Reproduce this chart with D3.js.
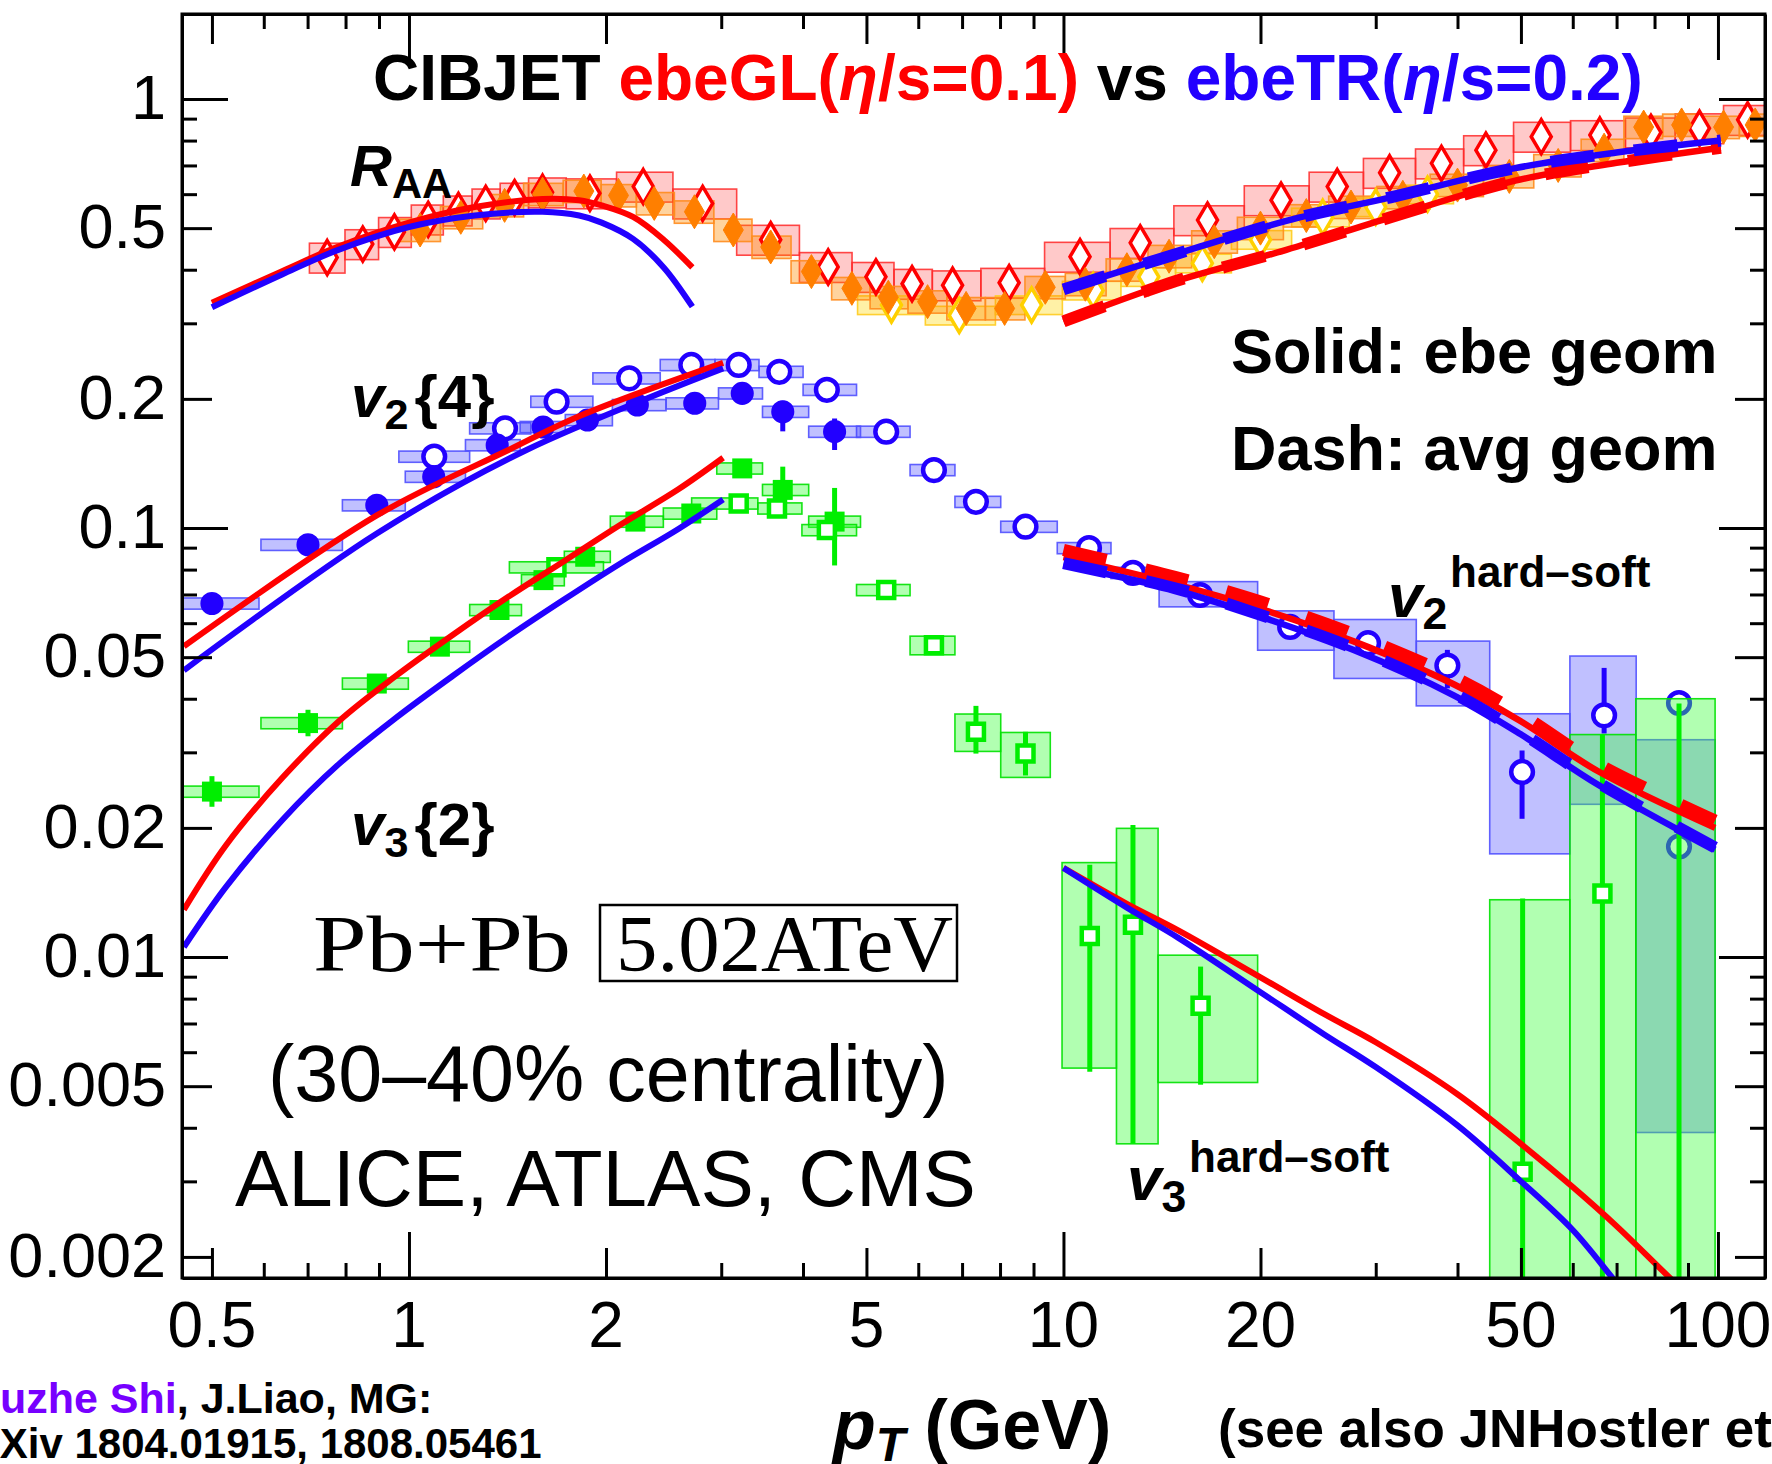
<!DOCTYPE html>
<html>
<head>
<meta charset="utf-8">
<script src="https://cdnjs.cloudflare.com/ajax/libs/d3/7.8.5/d3.min.js"></script>
<style>
  html, body { margin: 0; padding: 0; background: #fff; }
  svg { display: block; }
  text { font-family: "Liberation Sans", Arial, sans-serif; }
</style>
</head>
<body>
<svg id="chart" width="1772" height="1464"></svg>
<script>
// ---------------- data ----------------
// axis ticks
const xTickVals = [0.5, 1, 2, 5, 10, 20, 50, 100];
const xTickLabels = ["0.5", "1", "2", "5", "10", "20", "50", "100"];
const yTickVals = [0.002, 0.005, 0.01, 0.02, 0.05, 0.1, 0.2, 0.5, 1];
const yTickLabels = ["0.002", "0.005", "0.01", "0.02", "0.05", "0.1", "0.2", "0.5", "1"];

// R_AA data: red open diamonds, orange filled diamonds, yellow open diamonds
const raaAlicePt  = [0.75, 0.85, 0.95, 1.07, 1.19, 1.31, 1.45, 1.6, 1.89, 2.28, 2.81, 3.57, 4.37, 5.17, 5.87, 6.77, 8.26, 10.6, 13.1, 16.6, 21.5, 26.2, 31.5, 37.8, 44.2, 53.7, 66, 79, 93.7, 111];
const raaAliceVal = [0.427, 0.459, 0.49, 0.524, 0.55, 0.571, 0.589, 0.606, 0.603, 0.625, 0.571, 0.47, 0.406, 0.385, 0.371, 0.368, 0.373, 0.429, 0.462, 0.522, 0.581, 0.625, 0.673, 0.708, 0.76, 0.817, 0.824, 0.836, 0.855, 0.894];
const raaAliceSys = 0.08;

const raaCmsPt  = [1.04, 1.2, 1.4, 1.6, 1.85, 2.09, 2.37, 2.73, 3.13, 3.57, 4.12, 4.75, 5.4, 6.2, 7.1, 8.13, 9.38, 10.8, 12.5, 14.5, 17, 20, 23.5, 27.5, 33, 40, 48, 57, 67, 77, 88, 102, 114];
const raaCmsVal = [0.495, 0.53, 0.565, 0.6, 0.61, 0.596, 0.571, 0.546, 0.495, 0.452, 0.396, 0.362, 0.345, 0.337, 0.325, 0.325, 0.364, 0.37, 0.4, 0.43, 0.465, 0.5, 0.535, 0.56, 0.59, 0.63, 0.66, 0.7, 0.76, 0.86, 0.87, 0.86, 0.87];
const raaCmsSys = 0.06;

const raaAtlasPt  = [5.46, 6.93, 8.94, 11.1, 13.5, 16.3, 20, 24.9, 30, 36];
const raaAtlasVal = [0.331, 0.313, 0.331, 0.358, 0.385, 0.414, 0.47, 0.53, 0.56, 0.6];
const raaAtlasSys = 0.05;

// v2 data, blue
const v2OpenPt  = [1.093, 1.402, 1.681, 2.17, 2.70, 3.19, 3.68, 4.35, 5.36, 6.34, 7.35, 8.75, 10.94, 12.77];
const v2OpenVal = [0.1467, 0.1708, 0.197, 0.2233, 0.2399, 0.2399, 0.2313, 0.21, 0.1677, 0.1365, 0.1151, 0.1007, 0.0898, 0.0786];
const v2OpenSys = 0.03;

const v2FillPt  = [0.5, 0.701, 0.893, 1.091, 1.364, 1.603, 1.874, 2.233, 2.733, 3.23, 3.725, 4.47];
const v2FillVal = [0.0667, 0.0914, 0.113, 0.1317, 0.156, 0.172, 0.1785, 0.1935, 0.1953, 0.206, 0.1866, 0.1677];
const v2FillSys = 0.03;
const v2FillErrPt = [3.725, 4.47];
const v2FillErrLo = [0.168, 0.152];
const v2FillErrHi = [0.198, 0.18];

const v2HiPt  = [16.17, 22.2, 29.2, 38.6, 50.2, 67.0, 87.2, 87.2];
const v2HiVal = [0.0698, 0.0588, 0.0539, 0.0478, 0.027, 0.0366, 0.0181, 0.0391];
const v2HiBoxXlo = [14.0, 19.8, 25.9, 34.6, 44.8, 59.4, 75];
const v2HiBoxXhi = [19.8, 25.9, 34.6, 44.8, 59.4, 75, 99];
const v2HiBoxLo  = [0.0655, 0.0519, 0.0446, 0.0385, 0.0174, 0.0227, 0.0039];
const v2HiBoxHi  = [0.075, 0.0641, 0.0612, 0.0545, 0.0369, 0.0503, 0.0321];
const v2HiErrPt = [38.6, 50.2, 67.0];
const v2HiErrLo = [0.0423, 0.021, 0.0332];
const v2HiErrHi = [0.052, 0.0303, 0.0472];

// v3 data, green
const v3FillPt  = [0.5, 0.701, 0.893, 1.115, 1.375, 1.605, 1.859, 2.218, 2.70, 3.23, 3.725, 4.47];
const v3FillVal = [0.0243, 0.0351, 0.0434, 0.0529, 0.0644, 0.0756, 0.0857, 0.1035, 0.1081, 0.1377, 0.1227, 0.1035];
const v3FillSys = 0.03;
const v3FillErrPt = [0.5, 0.701, 3.725, 4.47];
const v3FillErrLo = [0.0224, 0.0327, 0.107, 0.0818];
const v3FillErrHi = [0.0264, 0.0377, 0.139, 0.124];

const v3OpenPt  = [1.68, 3.19, 3.65, 4.35, 5.36, 6.34, 7.35, 8.75];
const v3OpenVal = [0.081, 0.1141, 0.1111, 0.0989, 0.0717, 0.0533, 0.0335, 0.0298];
const v3OpenSys = [0.03, 0.03, 0.03, 0.03, 0.03, 0.05, 0.1, 0.12];
const v3OpenErrPt = [7.35, 8.75];
const v3OpenErrLo = [0.0298, 0.0265];
const v3OpenErrHi = [0.0385, 0.0335];

const v3HiPt  = [10.97, 12.77, 16.2, 50.3, 66.6];
const v3HiVal = [0.0112, 0.0119, 0.0077, 0.00316, 0.01407];
const v3HiBoxXlo = [9.95, 12.05, 13.95, 44.8, 59.4, 74.9];
const v3HiBoxXhi = [12.05, 13.95, 19.8, 59.4, 74.9, 99];
const v3HiBoxLo  = [0.00551, 0.00367, 0.0051, 0.001, 0.001, 0.001];
const v3HiBoxHi  = [0.0166, 0.01995, 0.0101, 0.0136, 0.033, 0.04];
const v3HiErrPt = [10.97, 12.77, 16.2, 50.3, 66.6, 87.2];
const v3HiErrLo = [0.0054, 0.00367, 0.00504, 0.001, 0.001, 0.001];
const v3HiErrHi = [0.0164, 0.0203, 0.0095, 0.0137, 0.033, 0.039];

// model curves: GL = red, TR = blue
const raaLoPt   = [0.5, 0.64, 0.78, 1.0, 1.26, 1.6, 1.82, 1.97, 2.2, 2.45, 2.71];
const raaLoGl   = [0.335, 0.397, 0.453, 0.515, 0.56, 0.585, 0.581, 0.565, 0.531, 0.47, 0.405];
const raaLoTr   = [0.327, 0.39, 0.445, 0.503, 0.535, 0.546, 0.535, 0.515, 0.472, 0.405, 0.328];
const raaHiPt   = [10, 14.5, 21.9, 31.6, 49, 70, 101];
const raaHiGl   = [0.303, 0.372, 0.445, 0.53, 0.645, 0.71, 0.77];
const raaHiTr   = [0.36, 0.43, 0.52, 0.59, 0.69, 0.75, 0.80];

const v2LoGlPt  = [0.453, 0.893, 1.419, 1.823, 3.02];
const v2LoGl    = [0.053, 0.107, 0.152, 0.1825, 0.2427];
const v2LoTrPt  = [0.453, 0.893, 1.512, 3.02];
const v2LoTr    = [0.0466, 0.0971, 0.152, 0.2355];
const v2HiCurvePt = [10, 14.8, 19.9, 27.7, 39.4, 49.9, 65.6, 99];
const v2HiGl      = [0.0855, 0.074, 0.065, 0.0545, 0.0433, 0.0355, 0.0271, 0.02];
const v2HiTr      = [0.082, 0.0717, 0.0623, 0.052, 0.0408, 0.0331, 0.0252, 0.0178];
const v2HiGlDash  = [0.0889, 0.077, 0.0676, 0.0567, 0.045, 0.0369, 0.0282, 0.0208];
const v2HiTrDash  = [0.0828, 0.0724, 0.0629, 0.0525, 0.0412, 0.0334, 0.0255, 0.018];

const v3LoPt    = [0.453, 0.525, 0.641, 0.782, 0.955, 1.166, 1.42, 1.73, 2.11, 2.58, 3.02];
const v3LoGl    = [0.0129, 0.0182, 0.0262, 0.0355, 0.0452, 0.0563, 0.0692, 0.0839, 0.102, 0.1231, 0.1458];
const v3LoTr    = [0.01055, 0.01455, 0.0209, 0.0282, 0.0361, 0.0452, 0.0559, 0.0683, 0.0829, 0.0995, 0.1165];
const v3HiGlPt  = [10, 12.5, 15, 20, 25, 30, 40, 50, 60, 70, 85, 95];
const v3HiGl    = [0.01613, 0.0133, 0.01152, 0.00897, 0.00737, 0.00633, 0.00479, 0.00367, 0.00291, 0.00236, 0.00177, 0.00151];
const v3HiTrPt  = [10, 12.5, 15, 20, 25, 30, 40, 50, 60, 70, 75];
const v3HiTr    = [0.01613, 0.01304, 0.01107, 0.00828, 0.00661, 0.00554, 0.00405, 0.003, 0.00231, 0.00174, 0.00154];

// ---------------- layout ----------------
const RED = "#ff0000", BLUE = "#2200ff", GREEN = "#00ee00", ORANGE = "#ff7f00", YELLOW = "#ffd000";
const SERIF = "'Liberation Serif', 'DejaVu Serif', serif";
const plot = { left: 182, right: 1765, top: 14, bottom: 1278 };
const svg = d3.select("#chart");
const x = d3.scaleLog().domain([0.45, 118]).range([plot.left, plot.right]);
const y = d3.scaleLog().domain([0.001786, 1.578]).range([plot.bottom, plot.top]);

svg.append("defs").append("clipPath").attr("id", "clip").append("rect")
  .attr("x", plot.left).attr("y", plot.top)
  .attr("width", plot.right - plot.left).attr("height", plot.bottom - plot.top);

const g = svg.append("g").attr("clip-path", "url(#clip)");

function zip(a, b) { return a.map((v, i) => [v, b[i]]); }

// bin edges halfway (in log) between neighbouring points, not wider than maxF
function edges(pts, maxF = 1.18) {
  return pts.map((p, i) => {
    let lo = i > 0 ? Math.sqrt(pts[i - 1] * p) : p * p / Math.sqrt(p * pts[1]);
    let hi = i < pts.length - 1 ? Math.sqrt(p * pts[i + 1]) : p * p / Math.sqrt(p * pts[i - 1]);
    lo = Math.max(lo, p / maxF);
    hi = Math.min(hi, p * maxF);
    return [lo, hi];
  });
}

const boxStyle = {
  pink:   { fill: "rgba(255,60,60,0.28)", stroke: "rgba(255,40,40,0.85)" },
  orange: { fill: "rgba(255,140,0,0.38)", stroke: "rgba(255,140,30,0.9)" },
  yellow: { fill: "rgba(255,215,0,0.35)", stroke: "rgba(255,205,40,0.95)" },
  blue:   { fill: "rgba(64,64,255,0.33)", stroke: "rgba(80,80,255,0.9)" },
  green:  { fill: "rgba(60,255,60,0.40)", stroke: "rgba(0,225,0,0.9)" }
};

function sysBoxes(pts, vals, sys, st) {
  const e = edges(pts);
  const s = i => Array.isArray(sys) ? sys[i] : sys;
  g.append("g").selectAll("rect").data(pts).join("rect")
    .attr("x", (d, i) => x(e[i][0]))
    .attr("width", (d, i) => x(e[i][1]) - x(e[i][0]))
    .attr("y", (d, i) => y(vals[i] * (1 + s(i))))
    .attr("height", (d, i) => y(vals[i] * (1 - s(i))) - y(vals[i] * (1 + s(i))))
    .attr("fill", st.fill).attr("stroke", st.stroke).attr("stroke-width", 1.6);
}

function rangeBoxes(xlo, xhi, lo, hi, st) {
  g.append("g").selectAll("rect").data(xlo).join("rect")
    .attr("x", (d, i) => x(xlo[i]))
    .attr("width", (d, i) => x(xhi[i]) - x(xlo[i]))
    .attr("y", (d, i) => y(hi[i]))
    .attr("height", (d, i) => y(lo[i]) - y(hi[i]))
    .attr("fill", st.fill).attr("stroke", st.stroke).attr("stroke-width", 1.6);
}

function errBars(pts, lo, hi, color) {
  g.append("g").selectAll("line").data(pts).join("line")
    .attr("x1", d => x(d)).attr("x2", d => x(d))
    .attr("y1", (d, i) => y(lo[i])).attr("y2", (d, i) => y(hi[i]))
    .attr("stroke", color).attr("stroke-width", 5);
}

const diamond = "M0,-17L10,0L0,17L-10,0Z";
function markers(pts, vals, kind, color) {
  const sel = g.append("g").selectAll("path").data(pts).join("path")
    .attr("transform", (d, i) => `translate(${x(d)},${y(vals[i])})`);
  if (kind === "diamondOpen") sel.attr("d", diamond).attr("fill", "#fff").attr("stroke", color).attr("stroke-width", 3.5);
  if (kind === "diamondFill") sel.attr("d", diamond).attr("fill", color).attr("stroke", color).attr("stroke-width", 1);
  if (kind === "circleOpen") sel.attr("d", d3.symbol(d3.symbolCircle, 370)()).attr("fill", "#fff").attr("stroke", color).attr("stroke-width", 4.5);
  if (kind === "circleFill") sel.attr("d", d3.symbol(d3.symbolCircle, 420)()).attr("fill", color);
  if (kind === "squareOpen") sel.attr("d", "M-8,-8H8V8H-8Z").attr("fill", "#fff").attr("stroke", color).attr("stroke-width", 4.5);
  if (kind === "squareFill") sel.attr("d", "M-10,-10H10V10H-10Z").attr("fill", color);
}

const line = d3.line().x(d => x(d[0])).y(d => y(d[1])).curve(d3.curveCatmullRom.alpha(0.5));
function curve(pts, vals, color, width, dash) {
  const p = g.append("path").datum(zip(pts, vals)).attr("d", line)
    .attr("fill", "none").attr("stroke", color).attr("stroke-width", width);
  if (dash) p.attr("stroke-dasharray", dash);
}

// ---------------- systematic boxes ----------------
sysBoxes(raaAlicePt, raaAliceVal, raaAliceSys, boxStyle.pink);
sysBoxes(raaAtlasPt, raaAtlasVal, raaAtlasSys, boxStyle.yellow);
sysBoxes(raaCmsPt, raaCmsVal, raaCmsSys, boxStyle.orange);
sysBoxes(v2OpenPt, v2OpenVal, v2OpenSys, boxStyle.blue);
sysBoxes(v2FillPt, v2FillVal, v2FillSys, boxStyle.blue);
rangeBoxes(v2HiBoxXlo, v2HiBoxXhi, v2HiBoxLo, v2HiBoxHi, boxStyle.blue);
sysBoxes(v3FillPt, v3FillVal, v3FillSys, boxStyle.green);
sysBoxes(v3OpenPt, v3OpenVal, v3OpenSys, boxStyle.green);

// ---------------- markers ----------------
markers(raaAlicePt, raaAliceVal, "diamondOpen", RED);
markers(raaAtlasPt, raaAtlasVal, "diamondOpen", YELLOW);
markers(raaCmsPt, raaCmsVal, "diamondFill", ORANGE);

errBars(v2FillErrPt, v2FillErrLo, v2FillErrHi, BLUE);
errBars(v2HiErrPt, v2HiErrLo, v2HiErrHi, BLUE);
markers(v2OpenPt, v2OpenVal, "circleOpen", BLUE);
markers(v2FillPt, v2FillVal, "circleFill", BLUE);
markers(v2HiPt, v2HiVal, "circleOpen", BLUE);

// high pT v3 boxes sit over the v2 ones (teal overlap)
rangeBoxes(v3HiBoxXlo, v3HiBoxXhi, v3HiBoxLo, v3HiBoxHi, boxStyle.green);
errBars(v3HiErrPt, v3HiErrLo, v3HiErrHi, GREEN);
errBars(v3FillErrPt, v3FillErrLo, v3FillErrHi, GREEN);
errBars(v3OpenErrPt, v3OpenErrLo, v3OpenErrHi, GREEN);
markers(v3FillPt, v3FillVal, "squareFill", GREEN);
markers(v3OpenPt, v3OpenVal, "squareOpen", GREEN);
markers(v3HiPt, v3HiVal, "squareOpen", GREEN);

// ---------------- model curves ----------------
curve(raaLoPt, raaLoGl, RED, 6);
curve(raaLoPt, raaLoTr, BLUE, 6);
curve(raaHiPt, raaHiGl, RED, 6.5);
curve(raaHiPt, raaHiGl, RED, 12, "44,40");
curve(raaHiPt, raaHiTr, BLUE, 6.5);
curve(raaHiPt, raaHiTr, BLUE, 12, "44,40");

curve(v2LoGlPt, v2LoGl, RED, 6);
curve(v2LoTrPt, v2LoTr, BLUE, 6);
curve(v2HiCurvePt, v2HiGl, RED, 6.5);
curve(v2HiCurvePt, v2HiTr, BLUE, 6.5);
curve(v2HiCurvePt, v2HiGlDash, RED, 12, "44,40");
curve(v2HiCurvePt, v2HiTrDash, BLUE, 12, "44,40");

curve(v3LoPt, v3LoGl, RED, 6);
curve(v3LoPt, v3LoTr, BLUE, 6);
curve(v3HiGlPt, v3HiGl, RED, 6);
curve(v3HiTrPt, v3HiTr, BLUE, 6);

// ---------------- frame and ticks ----------------
function tickLen(v) {
  const l = Math.log10(v);
  if (Math.abs(l - Math.round(l)) < 1e-6) return 46;
  const m = v / Math.pow(10, Math.floor(l + 1e-9));
  return (Math.abs(m - 2) < 1e-6 || Math.abs(m - 5) < 1e-6) ? 30 : 15;
}
const xt = x.ticks().filter(v => v >= 0.45 && v <= 118);
const yt = y.ticks().filter(v => v >= 0.0018 && v <= 1.578);

const axB = svg.append("g").attr("transform", `translate(0,${plot.bottom})`)
  .call(d3.axisBottom(x).tickValues(xt).tickSizeOuter(0).tickFormat(""));
axB.selectAll(".tick line").attr("y2", d => -tickLen(d));
const axT = svg.append("g").attr("transform", `translate(0,${plot.top})`)
  .call(d3.axisTop(x).tickValues(xt).tickSizeOuter(0).tickFormat(""));
axT.selectAll(".tick line").attr("y2", d => tickLen(d));
const axL = svg.append("g").attr("transform", `translate(${plot.left},0)`)
  .call(d3.axisLeft(y).tickValues(yt).tickSizeOuter(0).tickFormat(""));
axL.selectAll(".tick line").attr("x2", d => tickLen(d));
const axR = svg.append("g").attr("transform", `translate(${plot.right},0)`)
  .call(d3.axisRight(y).tickValues(yt).tickSizeOuter(0).tickFormat(""));
axR.selectAll(".tick line").attr("x2", d => -tickLen(d));
svg.selectAll(".tick line").attr("stroke", "#000").attr("stroke-width", 3);
svg.selectAll(".domain").attr("stroke", "#000").attr("stroke-width", 3);

svg.append("rect").attr("x", plot.left).attr("y", plot.top)
  .attr("width", plot.right - plot.left).attr("height", plot.bottom - plot.top)
  .attr("fill", "none").attr("stroke", "#000").attr("stroke-width", 3);

// tick labels
svg.append("g").selectAll("text").data(xTickVals).join("text")
  .attr("x", d => x(d)).attr("y", 1347).attr("text-anchor", "middle")
  .attr("font-size", 64).text((d, i) => xTickLabels[i]);
svg.append("g").selectAll("text").data(yTickVals).join("text")
  .attr("x", 166).attr("y", d => y(d) + 20).attr("text-anchor", "end")
  .attr("font-size", 63).text((d, i) => yTickLabels[i]);

// ---------------- annotations ----------------
const title = svg.append("text").attr("x", 373).attr("y", 100)
  .attr("font-size", 64).attr("font-weight", "bold");
title.append("tspan").attr("fill", "#000").text("CIBJET ");
title.append("tspan").attr("fill", RED).text("ebeGL(");
title.append("tspan").attr("fill", RED).attr("font-style", "italic").text("η");
title.append("tspan").attr("fill", RED).text("/s=0.1) ");
title.append("tspan").attr("fill", "#000").text("vs ");
title.append("tspan").attr("fill", BLUE).text("ebeTR(");
title.append("tspan").attr("fill", BLUE).attr("font-style", "italic").text("η");
title.append("tspan").attr("fill", BLUE).text("/s=0.2)");

function symLabel(x0, base, main, sub, rest, size) {
  const t = svg.append("text").attr("x", x0).attr("y", base)
    .attr("font-size", size).attr("font-weight", "bold");
  t.append("tspan").attr("font-style", "italic").text(main);
  if (sub) t.append("tspan").attr("font-size", size * 0.72).attr("dy", size * 0.2).text(sub);
  if (rest) t.append("tspan").attr("dy", -size * 0.2).attr("dx", 6).text(rest);
}
function supLabel(x0, base, txt, size) {
  svg.append("text").attr("x", x0).attr("y", base)
    .attr("font-size", size).attr("font-weight", "bold").text(txt);
}
symLabel(350, 186, "R", "AA", null, 58);
symLabel(351, 417, "v", "2", "{4}", 60);
symLabel(351, 845, "v", "3", "{2}", 60);
symLabel(1388, 617, "v", "2", null, 62);
supLabel(1450, 587, "hard–soft", 44);
symLabel(1127, 1200, "v", "3", null, 62);
supLabel(1189, 1172, "hard–soft", 44);

svg.append("text").attr("x", 1231).attr("y", 373).attr("font-size", 63)
  .attr("font-weight", "bold").text("Solid: ebe geom");
svg.append("text").attr("x", 1231).attr("y", 470).attr("font-size", 63)
  .attr("font-weight", "bold").text("Dash: avg geom");

svg.append("text").attr("x", 313).attr("y", 971).attr("font-size", 80)
  .style("font-family", SERIF)
  .attr("textLength", 258).attr("lengthAdjust", "spacingAndGlyphs").text("Pb+Pb");
svg.append("rect").attr("x", 600).attr("y", 905).attr("width", 357).attr("height", 76)
  .attr("fill", "none").attr("stroke", "#000").attr("stroke-width", 2.5);
svg.append("text").attr("x", 616).attr("y", 971).attr("font-size", 80)
  .style("font-family", SERIF)
  .attr("textLength", 337).attr("lengthAdjust", "spacingAndGlyphs").text("5.02ATeV");
svg.append("text").attr("x", 268).attr("y", 1101).attr("font-size", 79).text("(30–40% centrality)");
svg.append("text").attr("x", 235).attr("y", 1206).attr("font-size", 80).text("ALICE, ATLAS, CMS");

const xl = svg.append("text").attr("x", 833).attr("y", 1449).attr("font-size", 70).attr("font-weight", "bold");
xl.append("tspan").attr("font-style", "italic").text("p");
xl.append("tspan").attr("font-style", "italic").attr("font-size", 48).attr("dy", 12).text("T");
xl.append("tspan").attr("dy", -12).text(" (GeV)");

const c1 = svg.append("text").attr("x", -55).attr("y", 1413).attr("font-size", 43).attr("font-weight", "bold");
c1.append("tspan").attr("fill", "#7700ff").text("Shuzhe Shi");
c1.append("tspan").attr("fill", "#000").text(", J.Liao, MG:");
svg.append("text").attr("x", -40).attr("y", 1458).attr("font-size", 42).attr("font-weight", "bold")
  .text("arXiv 1804.01915, 1808.05461");
svg.append("text").attr("x", 1218).attr("y", 1447).attr("font-size", 53).attr("font-weight", "bold")
  .text("(see also JNHostler et al.)");
</script>
</body>
</html>
